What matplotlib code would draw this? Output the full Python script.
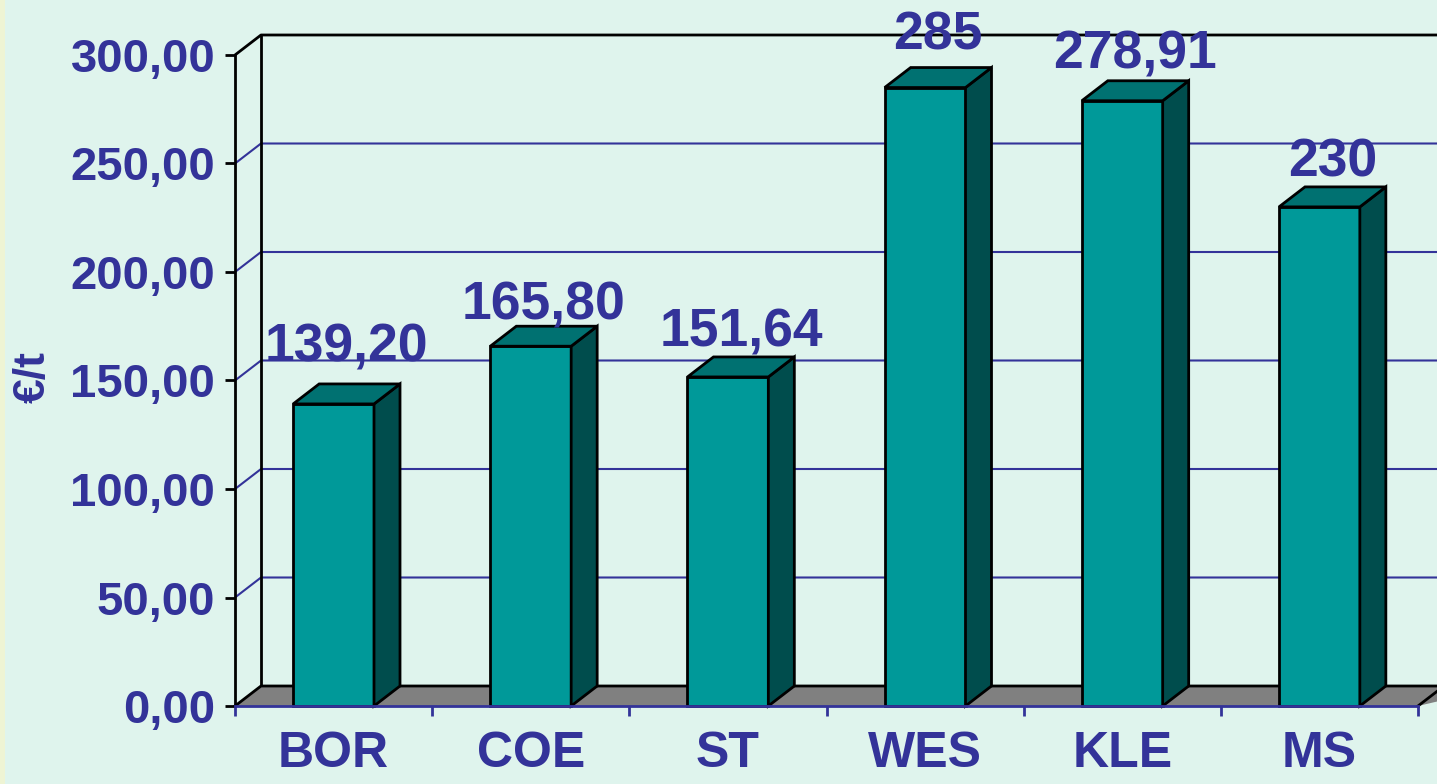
import matplotlib
matplotlib.use("Agg")
import matplotlib.pyplot as plt
from matplotlib.patches import Polygon, Rectangle

# ---------------- data ----------------
categories = ["BOR", "COE", "ST", "WES", "KLE", "MS"]
values = [139.20, 165.80, 151.64, 285.0, 278.91, 230.0]
value_labels = ["139,20", "165,80", "151,64", "285", "278,91", "230"]
y_ticks = [0, 50, 100, 150, 200, 250, 300]
y_tick_labels = ["0,00", "50,00", "100,00", "150,00", "200,00", "250,00", "300,00"]
y_label = "€/t"

# ---------------- layout / style ----------------
W, H, DPI = 1437, 784, 100
BG = "#DFF4ED"
TXT = "#333399"
FRONT = "#009999"
SIDE = "#004D4D"
TOP = "#007171"
FLOOR = "#808080"
FONT = "Liberation Sans"
label_gap_px = [22, 7, 10, 18, 12, 10]

fig = plt.figure(figsize=(W / DPI, H / DPI), dpi=DPI, facecolor=BG)
fig.patches.append(Rectangle((0, 0), 5 / W, 1, transform=fig.transFigure,
                             facecolor="#EEF4D4", edgecolor="none", zorder=0))

ax_l, ax_r, ax_b, ax_t = 235, 1418, 706, 55
ax = fig.add_axes([ax_l / W, (H - ax_b) / H, (ax_r - ax_l) / W, (ax_b - ax_t) / H])
ax.set_facecolor("none")
n = len(categories)
ax.set_xlim(0, n)
ax.set_ylim(0, 300)
for s in ax.spines.values():
    s.set_visible(False)

# depth offset in data units (26 px right, 20 px up)
dx = 26 / (ax_r - ax_l) * n
dy = 20 / (ax_b - ax_t) * 300
xmax_back = n + dx + 0.3

# gridlines on side and back wall
for t in y_ticks[1:]:
    col = "black" if t == y_ticks[-1] else TXT
    lw = 2.0 if t == y_ticks[-1] else 1.5
    ax.plot([0, dx, xmax_back], [t, t + dy, t + dy], color=col, lw=lw,
            clip_on=False, zorder=1, solid_capstyle="butt")
# wall verticals
ax.plot([0, 0], [0, y_ticks[-1]], color="black", lw=2.0, clip_on=False, zorder=2)
ax.plot([dx, dx], [dy, y_ticks[-1] + dy], color="black", lw=2.0, clip_on=False, zorder=2)

# floor
floor = Polygon([(0, 0), (dx, dy), (xmax_back, dy), (n, 0)], closed=True,
                facecolor=FLOOR, edgecolor="none", clip_on=False, zorder=2)
ax.add_patch(floor)
ax.plot([0, dx, xmax_back], [0, dy, dy], color="black", lw=2.0, clip_on=False, zorder=3)
ax.plot([n, n + dx], [0, dy], color="black", lw=2.0, clip_on=False, zorder=3)

# bars
bw = 0.41
for i, v in enumerate(values):
    x0 = i + 0.5 - bw / 2
    x1 = x0 + bw
    kw = dict(closed=True, edgecolor="black", lw=2.0, clip_on=False, zorder=5,
              joinstyle="miter")
    ax.add_patch(Polygon([(x0, 0), (x1, 0), (x1, v), (x0, v)], facecolor=FRONT, **kw))
    ax.add_patch(Polygon([(x1, 0), (x1 + dx, dy), (x1 + dx, v + dy), (x1, v)], facecolor=SIDE, **kw))
    ax.add_patch(Polygon([(x0, v), (x1, v), (x1 + dx, v + dy), (x0 + dx, v + dy)], facecolor=TOP, **kw))
    ax.annotate(value_labels[i], xy=(i + 0.5 + dx / 2, v + dy),
                xytext=(0, label_gap_px[i] * 72 / DPI), textcoords="offset points",
                ha="center", va="baseline", fontsize=38.5, fontweight="bold",
                family=FONT, color=TXT, zorder=10, annotation_clip=False)

# x axis line
ax.plot([0, n], [0, 0], color=TXT, lw=2.0, clip_on=False, zorder=6)

# ticks
ax.set_yticks(y_ticks)
ax.set_yticklabels(y_tick_labels)
ax.tick_params(axis="y", length=7.2, width=2.0, color="black", pad=7,
               labelsize=34, labelcolor=TXT)
ax.set_xticks(range(n + 1))
ax.set_xticklabels([])
ax.tick_params(axis="x", which="major", length=7.2, width=2.0, color=TXT)
ax.set_xticks([i + 0.5 for i in range(n)], minor=True)
ax.set_xticklabels(categories, minor=True)
ax.tick_params(axis="x", which="minor", length=0, pad=18, labelsize=36,
               labelcolor=TXT)
for lab in ax.get_yticklabels() + ax.get_xticklabels(minor=True):
    lab.set_fontfamily(FONT)
    lab.set_fontweight("bold")

fig.text(33 / W, 1 - 377 / H, y_label, rotation=90, ha="center", va="center",
         fontsize=32, fontweight="bold", family=FONT, color=TXT)

fig.savefig("out.png", dpi=DPI, facecolor=BG)
